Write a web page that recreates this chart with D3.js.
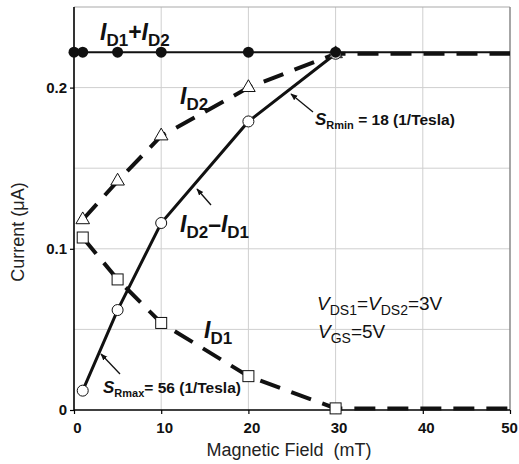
<!DOCTYPE html>
<html>
<head>
<meta charset="utf-8">
<script src="https://cdn.jsdelivr.net/npm/d3@7"></script>
<style>
  body { margin: 0; background: #fff; }
  text { font-family: "Liberation Sans", Arial, sans-serif; }
</style>
</head>
<body>
<svg></svg>
<script>
const width = 519;
const height = 464;

// magnetic field (mT) at each measured point
const field = [1, 5, 10, 20, 30];
const sumField = [0, 1, 5, 10, 20, 30];
const iSum = [0.222, 0.222, 0.222, 0.222, 0.222, 0.222];
const iD2 = [0.118, 0.142, 0.170, 0.200, 0.221];
const iD1 = [0.107, 0.081, 0.054, 0.021, 0.001];
const iDiff = [0.012, 0.062, 0.116, 0.179, 0.221];
const xTicks = [0, 10, 20, 30, 40, 50];
const yTicks = [0, 0.1, 0.2];
const yGrid = [0.05, 0.1, 0.15, 0.2];

const svg = d3.select('svg')
	.attr('width', width)
	.attr('height', height);

const x = d3.scaleLinear().domain([0, 50]).range([74, 510]);
const y = d3.scaleLinear().domain([0, 0.25]).range([410, 7]);

// grid
svg.append('g').selectAll('line').data(yGrid).enter().append('line')
	.attr('x1', x(0)).attr('x2', x(50))
	.attr('y1', d => y(d)).attr('y2', d => y(d))
	.attr('stroke', '#cfcfcf').attr('stroke-width', 1);
svg.append('g').selectAll('line').data(xTicks.filter(d => d > 0 && d < 50)).enter().append('line')
	.attr('x1', d => x(d)).attr('x2', d => x(d))
	.attr('y1', y(0)).attr('y2', y(0.25))
	.attr('stroke', '#cfcfcf').attr('stroke-width', 1);

// frame top / right
svg.append('line').attr('x1', x(0)).attr('x2', x(50)).attr('y1', y(0.25)).attr('y2', y(0.25))
	.attr('stroke', '#aaa').attr('stroke-width', 1.2);
svg.append('line').attr('x1', x(50)).attr('x2', x(50)).attr('y1', y(0.25)).attr('y2', y(0))
	.attr('stroke', '#888').attr('stroke-width', 1.5);

// axes
const xAxis = d3.axisBottom(x).tickValues(xTicks).tickSize(4).tickPadding(8).tickFormat(d3.format('d'));
const yAxis = d3.axisLeft(y).tickValues(yTicks).tickSize(4).tickPadding(3).tickFormat(d => d === 0 ? '0' : d3.format('.1f')(d));

const gx = svg.append('g').attr('transform', `translate(0,${y(0)})`).call(xAxis);
const gy = svg.append('g').attr('transform', `translate(${x(0)},0)`).call(yAxis);
[gx, gy].forEach(g => {
	g.select('.domain').attr('stroke', '#000').attr('stroke-width', 1.6);
	g.selectAll('.tick line').attr('stroke', '#000').attr('stroke-width', 1.2);
	g.selectAll('.tick text').attr('font-size', 15).attr('font-weight', 'bold')
		.attr('fill', '#111').style('font-family', '"Liberation Sans", Arial, sans-serif');
});
gy.select('.domain').attr('d', `M0,${y(0.25)}V${y(0)}`);
gx.select('.domain').attr('d', `M${x(0)},0H${x(50)}`);
gx.selectAll('.tick text').attr('dx', d => d === 50 ? -1 : 3);

// axis titles
svg.append('text').attr('x', 289).attr('y', 456).attr('text-anchor', 'middle')
	.attr('font-size', 18).attr('fill', '#222').attr('xml:space', 'preserve')
	.text('Magnetic Field  (mT)');
svg.append('text').attr('transform', 'translate(24,232) rotate(-90)').attr('text-anchor', 'middle')
	.attr('font-size', 18).attr('fill', '#222').text('Current (μA)');

// lines
const line = d3.line().x(d => x(d[0])).y(d => y(d[1]));
const sumPts = sumField.map((f, i) => [f, iSum[i]]).concat([[50, iSum[iSum.length - 1]]]);
const d2Pts = field.map((f, i) => [f, iD2[i]]);
const d1Pts = field.map((f, i) => [f, iD1[i]]);
const diffPts = field.map((f, i) => [f, iDiff[i]]);

svg.append('path').attr('d', line(sumPts)).attr('fill', 'none')
	.attr('stroke', '#111').attr('stroke-width', 2);
svg.append('path').attr('d', line(d2Pts.concat([[50, iD2[iD2.length - 1]]]))).attr('fill', 'none')
	.attr('stroke', '#111').attr('stroke-width', 4).attr('stroke-dasharray', '21,12');
svg.append('path').attr('d', line(d1Pts.concat([[50, iD1[iD1.length - 1]]]))).attr('fill', 'none')
	.attr('stroke', '#111').attr('stroke-width', 4).attr('stroke-dasharray', '21,12');
svg.append('path').attr('d', line(diffPts)).attr('fill', 'none')
	.attr('stroke', '#111').attr('stroke-width', 3);

// markers
svg.append('g').selectAll('path').data(d2Pts).enter().append('path')
	.attr('d', d3.symbol().type(d3.symbolTriangle).size(80))
	.attr('transform', d => `translate(${x(d[0])},${y(d[1])})`)
	.attr('fill', '#fff').attr('stroke', '#111').attr('stroke-width', 1);
svg.append('g').selectAll('rect').data(d1Pts).enter().append('rect')
	.attr('x', d => x(d[0]) - 5.5).attr('y', d => y(d[1]) - 5.5)
	.attr('width', 11).attr('height', 11)
	.attr('fill', '#fff').attr('stroke', '#111').attr('stroke-width', 1);
svg.append('g').selectAll('circle').data(diffPts).enter().append('circle')
	.attr('cx', d => x(d[0])).attr('cy', d => y(d[1])).attr('r', 5.5)
	.attr('fill', '#fff').attr('stroke', '#111').attr('stroke-width', 1);
svg.append('g').selectAll('circle').data(sumField.map((f, i) => [f, iSum[i]])).enter().append('circle')
	.attr('cx', d => x(d[0])).attr('cy', d => y(d[1])).attr('r', 5.5)
	.attr('fill', '#111');

// rich labels: parts of [text, italic, sub]
function richLabel(px, py, parts, size, bold, subSize, mainSize) {
	const t = svg.append('text').attr('x', px).attr('y', py)
		.attr('font-size', size).attr('font-weight', bold ? 'bold' : 'normal')
		.attr('fill', '#111').attr('xml:space', 'preserve');
	let shifted = false;
	parts.forEach(p => {
		const s = t.append('tspan').text(p[0]);
		if (p[1]) s.attr('font-style', 'italic');
		if (p[1] && mainSize) s.attr('font-size', mainSize);
		if (p[2] && !shifted) { s.attr('dy', size * 0.28).attr('font-size', subSize); shifted = true; }
		else if (p[2]) s.attr('font-size', subSize);
		else if (shifted) { s.attr('dy', -size * 0.28); shifted = false; }
	});
	return t;
}

richLabel(100, 40, [['I', true], ['D1', false, true], ['+'], ['I', true], ['D2', false, true]], 23, true, 17);
richLabel(180, 104, [['I', true], ['D2', false, true]], 23, true, 17);
richLabel(180, 232, [['I', true], ['D2', false, true], ['–'], ['I', true], ['D1', false, true]], 23, true, 17);
richLabel(204, 338, [['I', true], ['D1', false, true]], 23, true, 17);
richLabel(315, 125, [['S', true], ['Rmin', false, true], [' = 18 (1/Tesla)']], 15.5, true, 11, 17);
richLabel(103, 393, [['S', true], ['Rmax', false, true], ['= 56 (1/Tesla)']], 15.5, true, 11, 17);
richLabel(317, 310, [['V', true], ['DS1', false, true], ['='], ['V', true], ['DS2', false, true], ['=3V']], 19, false, 14);
richLabel(318, 338, [['V', true], ['GS', false, true], ['=5V']], 19, false, 14);

// arrows
const defs = svg.append('defs');
defs.append('marker').attr('id', 'ah').attr('viewBox', '0 0 10 10')
	.attr('refX', 9).attr('refY', 5).attr('markerWidth', 7).attr('markerHeight', 7)
	.attr('orient', 'auto').attr('markerUnits', 'userSpaceOnUse')
	.append('path').attr('d', 'M0,1L10,5L0,9Z').attr('fill', '#111');
const arrows = [
	[313, 112, 291, 94],
	[211, 205, 197, 189],
	[120, 374, 101, 354]
];
svg.append('g').selectAll('line').data(arrows).enter().append('line')
	.attr('x1', d => d[0]).attr('y1', d => d[1]).attr('x2', d => d[2]).attr('y2', d => d[3])
	.attr('stroke', '#111').attr('stroke-width', 1.3).attr('marker-end', 'url(#ah)');
</script>
</body>
</html>
